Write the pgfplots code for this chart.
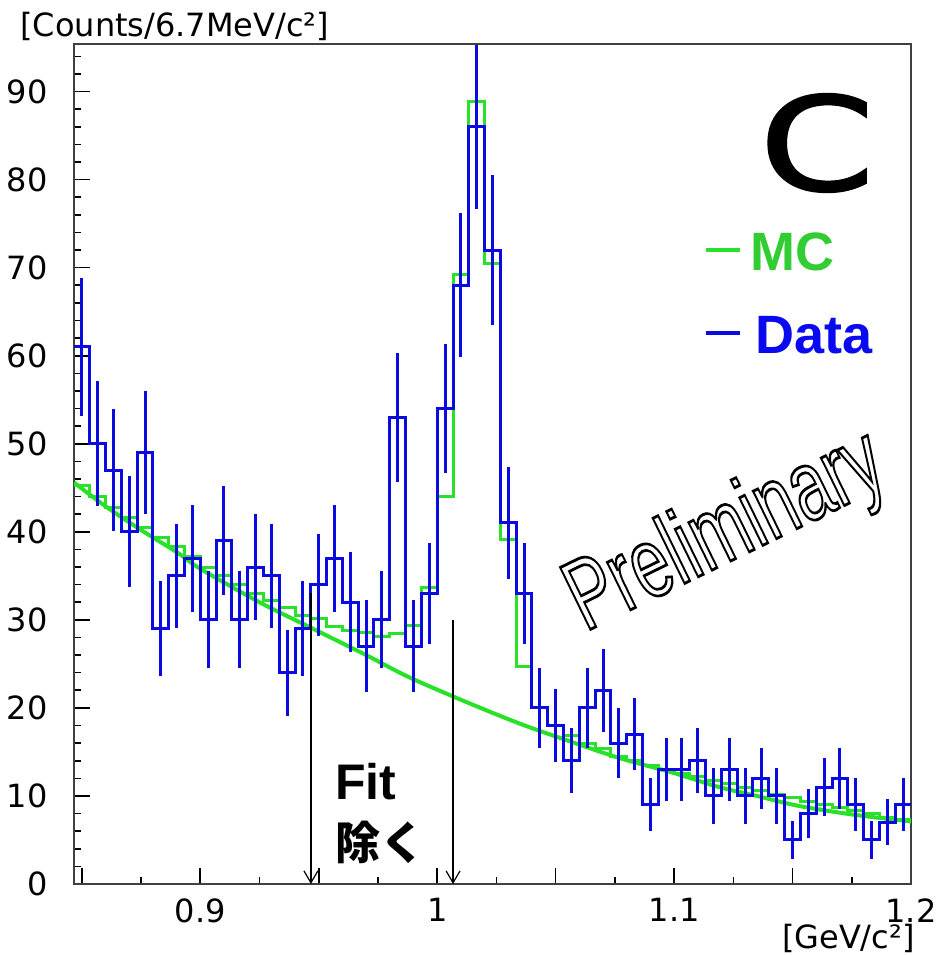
\documentclass[border=0pt]{standalone}
\usepackage{graphicx}
\usepackage{pgfplots}
\pgfplotsset{compat=1.18}
\usepackage{pgfplotstable}
\usepackage{fontspec}
\setmainfont{Liberation Sans}
\newfontfamily\rootfont{DejaVu Sans}
\newfontfamily\bigcfont{DejaVu Sans}
\newfontfamily\cjk{Noto Sans CJK JP}
\newfontfamily\prelimfont{Liberation Sans}
\usetikzlibrary{arrows.meta}
\definecolor{hblue}{RGB}{10,10,225}
\definecolor{hgreen}{RGB}{40,225,40}
\definecolor{tgreen}{RGB}{50,205,50}
\definecolor{tblue}{RGB}{10,10,240}

\pgfplotstableread{
xl data mc
0.8467 61 45.3
0.8533 50 44.0
0.8600 47 42.8
0.8667 40 41.6
0.8733 49 40.5
0.8800 29 39.4
0.8867 35 38.3
0.8933 37 37.2
0.9000 30 36.0
0.9067 39 35.0
0.9133 30 34.0
0.9200 36 33.0
0.9267 35 32.2
0.9333 24 31.4
0.9400 29 30.5
0.9467 34 30.2
0.9533 37 29.2
0.9600 32 28.8
0.9667 27 28.6
0.9733 30 28.1
0.9800 53 28.5
0.9867 27 29.4
0.9933 33 33.7
1.0000 54 44.0
1.0067 68 69.2
1.0133 86 88.9
1.0200 72 70.5
1.0267 41 39.1
1.0333 33 24.7
1.0400 20 20.0
1.0467 18 18.0
1.0533 14 16.9
1.0600 20 16.0
1.0667 22 15.4
1.0733 16 14.5
1.0800 17 14.0
1.0867 9 13.5
1.0933 13 13.0
1.1000 13 12.6
1.1067 14 12.2
1.1133 10 11.8
1.1200 13 11.4
1.1267 10 11.0
1.1333 12 10.6
1.1400 10 10.2
1.1467 5 9.8
1.1533 8 9.4
1.1600 11 9.0
1.1667 12 8.7
1.1733 9 8.3
1.1800 5 8.0
1.1867 7 7.6
1.1933 9 7.3
1.2000 9 7.3
}\hist

\pgfplotstableread{
xc data err
0.8500 61 7.8
0.8567 50 7.1
0.8633 47 6.9
0.8700 40 6.3
0.8767 49 7.0
0.8833 29 5.4
0.8900 35 5.9
0.8967 37 6.1
0.9033 30 5.5
0.9100 39 6.2
0.9167 30 5.5
0.9233 36 6.0
0.9300 35 5.9
0.9367 24 4.9
0.9433 29 5.4
0.9500 34 5.8
0.9567 37 6.1
0.9633 32 5.7
0.9700 27 5.2
0.9767 30 5.5
0.9833 53 7.3
0.9900 27 5.2
0.9967 33 5.7
1.0033 54 7.3
1.0100 68 8.2
1.0167 86 9.3
1.0233 72 8.5
1.0300 41 6.4
1.0367 33 5.7
1.0433 20 4.5
1.0500 18 4.2
1.0567 14 3.7
1.0633 20 4.5
1.0700 22 4.7
1.0767 16 4.0
1.0833 17 4.1
1.0900 9 3.0
1.0967 13 3.6
1.1033 13 3.6
1.1100 14 3.7
1.1167 10 3.2
1.1233 13 3.6
1.1300 10 3.2
1.1367 12 3.5
1.1433 10 3.2
1.1500 5 2.2
1.1567 8 2.8
1.1633 11 3.3
1.1700 12 3.5
1.1767 9 3.0
1.1833 5 2.2
1.1900 7 2.6
1.1967 9 3.0
}\errs

\begin{document}
\begin{tikzpicture}
\begin{axis}[
  scale only axis, width=418.5pt, height=420pt,
  xmin=0.8467, xmax=1.2, ymin=0, ymax=95.4,
  axis line style={black!75, line width=1pt},
  tick align=inside, xtick pos=bottom, ytick pos=left,
  xtick={0.85,0.9,0.95,1,1.05,1.1,1.15,1.2},
  xticklabels={,0.9,,1,,1.1,,1.2},
  minor xtick={0.875,0.925,0.975,1.025,1.075,1.125,1.175},
  ytick={0,10,...,90},
  minor ytick={0,2,...,94},
  major tick length=8pt, minor tick length=3.5pt,
  every tick/.style={black, line width=0.8pt},
  tick label style={font=\rootfont\fontsize{16}{18}\selectfont},
  /pgf/number format/assume math mode=true,
  xticklabel style={inner sep=0pt, yshift=-7pt},
  yticklabel style={inner sep=0pt, xshift=-13pt},
]
\addplot[hgreen, line width=2pt, smooth, forget plot] coordinates {
(0.8467,45.6) (0.86,42.9) (0.875,40.2) (0.89,37.7) (0.9,35.8) (0.925,32.0)
(0.946,29.2) (0.97,26.0) (0.988,23.5) (1.012,20.7) (1.035,18.2) (1.055,16.3)
(1.077,14.3) (1.1,12.6) (1.119,11.0) (1.135,10.0) (1.152,8.9) (1.175,7.9) (1.2,7.1)};
\addplot[hgreen, line width=1.5pt, const plot, forget plot] table[x=xl, y=mc]{\hist};
\addplot[hblue, line width=1.5pt, const plot, forget plot] table[x=xl, y=data]{\hist};
\addplot[hblue, draw=none, mark=none, forget plot,
  error bars/.cd, y dir=both, y explicit, error mark=none,
  error bar style={draw=hblue, line width=1.5pt, solid}]
  table[x=xc, y=data, y error=err]{\errs};
\draw[black, line width=0.6pt, -{Straight Barb[length=6pt,width=7pt]}] (axis cs:0.9467,33) -- (axis cs:0.9467,0);
\draw[black, line width=0.6pt, -{Straight Barb[length=6pt,width=7pt]}] (axis cs:1.0067,30) -- (axis cs:1.0067,0);
\end{axis}
% labels
\node[anchor=west, inner sep=0pt, font=\rootfont\fontsize{16}{18}\selectfont] at (-27pt,429pt) {[Counts/6.7MeV/c²]};
\node[anchor=east, inner sep=0pt, font=\rootfont\fontsize{16}{18}\selectfont] at (420.5pt,-27pt) {[GeV/c²]};
% legend
\draw[hgreen, line width=2pt] (316pt,317pt) -- (333pt,317pt);
\node[anchor=west, inner sep=0pt, text=tgreen, font=\bfseries\fontsize{27}{30}\selectfont] at (338pt,316pt) {MC};
\draw[hblue, line width=2pt] (316pt,275.5pt) -- (333pt,275.5pt);
\node[anchor=west, inner sep=0pt, text=tblue, font=\bfseries\fontsize{27}{30}\selectfont] at (340.5pt,274.5pt) {Data};
% big C
\node[inner sep=0pt] at (371.5pt,370.5pt) {\scalebox{1.27}[1]{\bigcfont\fontsize{65}{65}\selectfont\special{pdf:literal direct 2 Tr 1.0 w}C\special{pdf:literal direct 0 Tr}}};
% Fit
\node[anchor=west, inner sep=0pt, font=\bfseries\fontsize{25}{28}\selectfont] at (130.5pt,51pt) {Fit};
\node[anchor=west, inner sep=0pt, font=\cjk\bfseries\fontsize{22.5}{25}\selectfont] at (130.5pt,21pt) {除く};
% Preliminary (outlined)
\node[rotate=26, anchor=base west, inner sep=0pt, text=black] at (255.5pt,126pt) {\scalebox{0.68}[1]{\prelimfont\fontsize{50}{50}\selectfont\special{pdf:literal direct 1 Tr 1.4 w}Preliminary\special{pdf:literal direct 0 Tr}}};
\pgfresetboundingbox
\path[use as bounding box] (-37pt,-35.5pt) rectangle (432pt,442pt);
\end{tikzpicture}
\end{document}
